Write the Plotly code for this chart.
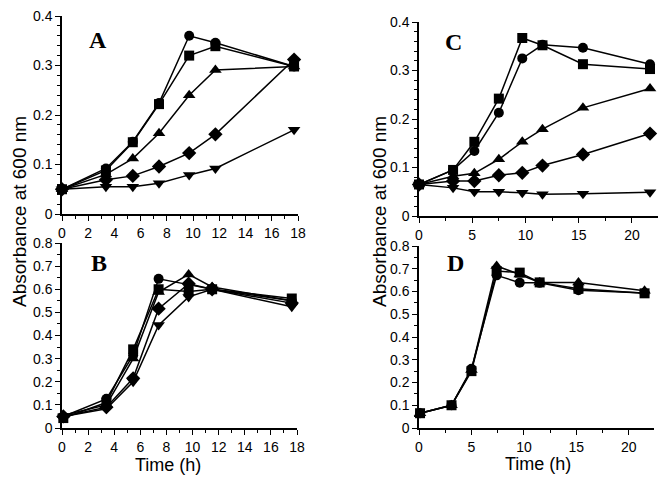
import plotly.graph_objects as go

# ---------------- data ----------------
time_A = [0, 3.35, 5.4, 7.4, 9.7, 11.7, 17.7]
A_circle = [0.050, 0.092, 0.146, 0.224, 0.360, 0.346, 0.298]
A_square = [0.050, 0.088, 0.145, 0.222, 0.320, 0.339, 0.298]
A_triup = [0.050, 0.080, 0.112, 0.163, 0.240, 0.291, 0.298]
A_diamond = [0.050, 0.069, 0.077, 0.096, 0.123, 0.161, 0.312]
A_tridown = [0.050, 0.055, 0.055, 0.062, 0.079, 0.092, 0.170]

time_B = [0.1, 3.4, 5.45, 7.4, 9.7, 11.5, 17.6]
B_circle = [0.050, 0.126, 0.315, 0.645, 0.620, 0.600, 0.550]
B_square = [0.043, 0.110, 0.340, 0.600, 0.590, 0.600, 0.560]
B_triup = [0.055, 0.100, 0.300, 0.588, 0.664, 0.610, 0.550]
B_diamond = [0.050, 0.090, 0.215, 0.516, 0.624, 0.600, 0.540]
B_tridown = [0.050, 0.083, 0.200, 0.445, 0.567, 0.600, 0.524]

time_C = [0, 3.2, 5.2, 7.5, 9.7, 11.6, 15.4, 21.7]
C_circle = [0.065, 0.095, 0.134, 0.213, 0.325, 0.353, 0.347, 0.313]
C_square = [0.065, 0.095, 0.153, 0.242, 0.367, 0.352, 0.313, 0.303]
C_triup = [0.065, 0.082, 0.088, 0.117, 0.153, 0.179, 0.223, 0.263]
C_diamond = [0.065, 0.072, 0.072, 0.084, 0.089, 0.104, 0.127, 0.170]
C_tridown = [0.065, 0.058, 0.050, 0.050, 0.048, 0.045, 0.046, 0.049]

time_D = [0.1, 3.1, 5.0, 7.4, 9.6, 11.5, 15.2, 21.5]
D_circle = [0.065, 0.100, 0.260, 0.671, 0.639, 0.638, 0.606, 0.593]
D_square = [0.065, 0.100, 0.250, 0.690, 0.683, 0.640, 0.612, 0.592]
D_triup = [0.065, 0.100, 0.255, 0.712, 0.675, 0.640, 0.640, 0.603]

yticks_top = [0, 0.1, 0.2, 0.3, 0.4]
yticks_bot = [0, 0.1, 0.2, 0.3, 0.4, 0.5, 0.6, 0.7, 0.8]
xticks_left = [0, 2, 4, 6, 8, 10, 12, 14, 16, 18]
xticks_right = [0, 5, 10, 15, 20]

# page offset of the figure (browser body margin)
OFF = 8
W, H = 670 - OFF, 482 - OFF
fig = go.Figure()

SIZES = {"circle": 10, "square": 10, "triangle-up": 11, "triangle-down": 11, "diamond": 11}

def add(xs, ys, symbol, ax):
    fig.add_trace(go.Scatter(
        x=xs, y=ys, mode="lines+markers",
        line=dict(color="black", width=1.5),
        marker=dict(symbol=symbol, size=SIZES[symbol], color="black"),
        xaxis="x" + ax, yaxis="y" + ax, showlegend=False, cliponaxis=False))

for ys, s in [(A_tridown, "triangle-down"), (A_diamond, "diamond"), (A_triup, "triangle-up"),
              (A_square, "square"), (A_circle, "circle")]:
    add(time_A, ys, s, "")
for ys, s in [(B_tridown, "triangle-down"), (B_diamond, "diamond"), (B_triup, "triangle-up"),
              (B_square, "square"), (B_circle, "circle")]:
    add(time_B, ys, s, "2")
for ys, s in [(C_tridown, "triangle-down"), (C_diamond, "diamond"), (C_triup, "triangle-up"),
              (C_square, "square"), (C_circle, "circle")]:
    add(time_C, ys, s, "3")
for ys, s in [(D_circle, "circle"), (D_square, "square"), (D_triup, "triangle-up")]:
    add(time_D, ys, s, "4")

def fx(x):
    return (x - OFF) / W

def fy(y):
    return 1 - (y - OFF) / H

def px(x0, x1):
    return [fx(x0), fx(x1)]

def py(top, bottom):
    return [fy(bottom), fy(top)]

tickfont = dict(family="Liberation Sans, Arial, sans-serif", size=14, color="black")

def xax(domain, rng, tickvals, minor_dtick, anchor):
    return dict(domain=domain, range=rng, tickvals=tickvals, ticks="outside", ticklen=5,
                tickwidth=1.2, tickcolor="black", showline=True, linecolor="black", linewidth=1.5,
                showgrid=False, zeroline=False, tickfont=tickfont, anchor=anchor,
                automargin=False, ticklabeloverflow="allow",
                minor=dict(dtick=minor_dtick, tick0=0, ticks="outside", ticklen=3,
                           tickcolor="black", tickwidth=1))

def yax(domain, rng, tickvals, minor_dtick, anchor):
    return dict(domain=domain, range=rng, tickvals=tickvals,
                ticktext=["0" if v == 0 else f"{v:.1f}" for v in tickvals],
                ticks="outside", ticklen=5, tickwidth=1.2, tickcolor="black",
                showline=True, linecolor="black", linewidth=1.5,
                showgrid=False, zeroline=False, tickfont=tickfont, anchor=anchor,
                automargin=False, ticklabeloverflow="allow",
                minor=dict(dtick=minor_dtick, tick0=0, ticks="outside", ticklen=3,
                           tickcolor="black", tickwidth=1))

fig.update_layout(
    width=W, height=H, margin=dict(l=0, r=0, t=0, b=0, autoexpand=False),
    paper_bgcolor="white", plot_bgcolor="white",
    xaxis=xax(px(62, 298), [0, 18], xticks_left, 1, "y"),
    yaxis=yax(py(16, 214), [0, 0.4], yticks_top, 0.02, "x"),
    xaxis2=xax(px(62, 297), [0, 18], xticks_left, 1, "y2"),
    yaxis2=yax(py(243, 428), [0, 0.8], yticks_bot, 0.05, "x2"),
    xaxis3=xax(px(419, 658), [0, 22.45], xticks_right, 2.5, "y3"),
    yaxis3=yax(py(22, 216), [0, 0.4], yticks_top, 0.02, "x3"),
    xaxis4=xax(px(419, 654), [0, 22.4], xticks_right, 2.5, "y4"),
    yaxis4=yax(py(246, 428), [0, 0.8], yticks_bot, 0.05, "x4"),
)

def ann(x, y, text, size, family, angle=0):
    fig.add_annotation(x=fx(x), y=fy(y), xref="paper", yref="paper", text=text,
                       showarrow=False, textangle=angle, xanchor="center", yanchor="middle",
                       font=dict(size=size, family=family, color="black"))

serif = "Liberation Serif, Times New Roman, serif"
sans = "Liberation Sans, Arial, sans-serif"
ann(98, 40, "<b>A</b>", 24, serif)
ann(99, 263, "<b>B</b>", 24, serif)
ann(453, 42, "<b>C</b>", 24, serif)
ann(455, 263, "<b>D</b>", 24, serif)
ann(19, 212, "Absorbance at 600 nm", 19, sans, angle=-90)
ann(379, 212, "Absorbance at 600 nm", 19, sans, angle=-90)
ann(168, 465, "Time (h)", 18, sans)
ann(538, 464, "Time (h)", 18, sans)

fig.write_html("out.html")
